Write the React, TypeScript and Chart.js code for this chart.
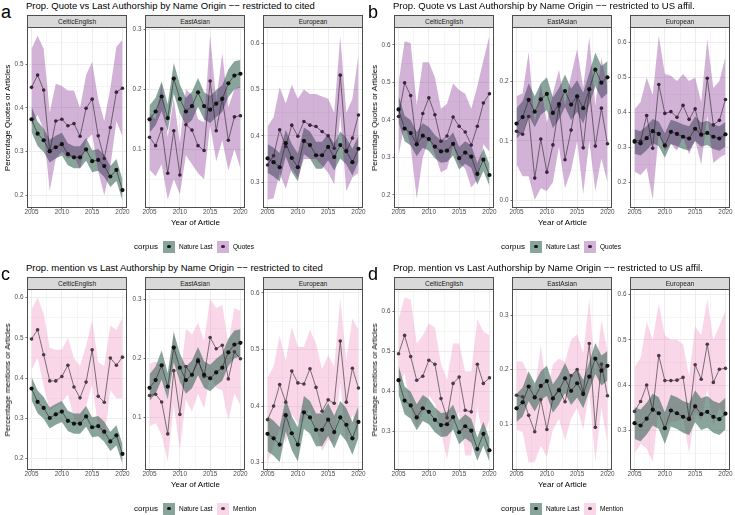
import React, { useEffect, useRef } from "react";
import { Chart, registerables } from "chart.js";

Chart.register(...registerables);

const FONT = '"Liberation Sans", Arial, Helvetica, sans-serif';

// ---------------- data ----------------
const years = [2005, 2006, 2007, 2008, 2009, 2010, 2011, 2012, 2013, 2014, 2015, 2016, 2017, 2018, 2019, 2020];
const facetNames = ["CelticEnglish", "EastAsian", "European"];

// Nature Last — restricted to cited (panels a, c)
const natCitedCelticV = [0.374, 0.341, 0.326, 0.301, 0.310, 0.317, 0.294, 0.287, 0.287, 0.305, 0.278, 0.281, 0.267, 0.243, 0.258, 0.212];
const natCitedCelticLo = [0.345, 0.313, 0.299, 0.275, 0.284, 0.291, 0.269, 0.262, 0.262, 0.279, 0.253, 0.256, 0.242, 0.219, 0.233, 0.188];
const natCitedCelticHi = [0.403, 0.369, 0.353, 0.327, 0.336, 0.343, 0.319, 0.312, 0.312, 0.331, 0.303, 0.306, 0.292, 0.267, 0.283, 0.236];
const natCitedEastV = [0.150, 0.163, 0.188, 0.152, 0.218, 0.184, 0.163, 0.172, 0.195, 0.172, 0.166, 0.176, 0.184, 0.210, 0.223, 0.226];
const natCitedEastLo = [0.128, 0.140, 0.164, 0.130, 0.193, 0.160, 0.140, 0.149, 0.171, 0.150, 0.144, 0.154, 0.162, 0.187, 0.200, 0.203];
const natCitedEastHi = [0.173, 0.186, 0.213, 0.175, 0.244, 0.208, 0.186, 0.196, 0.219, 0.195, 0.189, 0.199, 0.207, 0.233, 0.247, 0.249];
const natCitedEuroV = [0.351, 0.343, 0.332, 0.384, 0.352, 0.332, 0.389, 0.380, 0.358, 0.358, 0.376, 0.354, 0.380, 0.367, 0.343, 0.372];
const natCitedEuroLo = [0.320, 0.312, 0.301, 0.355, 0.322, 0.302, 0.360, 0.351, 0.329, 0.329, 0.347, 0.325, 0.351, 0.338, 0.314, 0.344];
const natCitedEuroHi = [0.382, 0.374, 0.363, 0.413, 0.382, 0.362, 0.418, 0.409, 0.387, 0.387, 0.405, 0.383, 0.409, 0.396, 0.372, 0.400];

// Nature Last — restricted to US affil. (panels b, d)
const natUsCelticV = [0.428, 0.377, 0.365, 0.335, 0.358, 0.349, 0.329, 0.316, 0.318, 0.336, 0.298, 0.313, 0.302, 0.256, 0.294, 0.253];
const natUsCelticLo = [0.393, 0.343, 0.332, 0.303, 0.326, 0.318, 0.298, 0.286, 0.288, 0.305, 0.268, 0.283, 0.272, 0.227, 0.264, 0.224];
const natUsCelticHi = [0.465, 0.412, 0.399, 0.368, 0.391, 0.381, 0.360, 0.346, 0.348, 0.367, 0.328, 0.343, 0.332, 0.285, 0.324, 0.282];
const natUsEastV = [0.129, 0.140, 0.169, 0.149, 0.170, 0.179, 0.147, 0.162, 0.184, 0.161, 0.175, 0.155, 0.187, 0.220, 0.198, 0.207];
const natUsEastLo = [0.104, 0.114, 0.142, 0.123, 0.144, 0.152, 0.121, 0.136, 0.157, 0.135, 0.149, 0.129, 0.161, 0.192, 0.171, 0.180];
const natUsEastHi = [0.155, 0.167, 0.197, 0.175, 0.197, 0.207, 0.173, 0.189, 0.212, 0.188, 0.202, 0.181, 0.214, 0.249, 0.226, 0.234];
const natUsEuroV = [0.316, 0.311, 0.326, 0.346, 0.338, 0.305, 0.344, 0.338, 0.330, 0.325, 0.353, 0.336, 0.341, 0.330, 0.325, 0.337];
const natUsEuroLo = [0.281, 0.276, 0.291, 0.311, 0.303, 0.270, 0.309, 0.303, 0.295, 0.290, 0.318, 0.301, 0.306, 0.295, 0.290, 0.302];
const natUsEuroHi = [0.351, 0.346, 0.361, 0.381, 0.373, 0.340, 0.379, 0.373, 0.365, 0.360, 0.388, 0.371, 0.376, 0.365, 0.360, 0.372];

// Quotes — restricted to cited (panel a)
const quoCitedCelticV = [0.447, 0.475, 0.441, 0.300, 0.370, 0.374, 0.359, 0.364, 0.335, 0.399, 0.420, 0.336, 0.284, 0.355, 0.436, 0.445];
const quoCitedCelticLo = [0.360, 0.385, 0.350, 0.210, 0.285, 0.300, 0.285, 0.290, 0.260, 0.325, 0.340, 0.255, 0.200, 0.265, 0.370, 0.335];
const quoCitedCelticHi = [0.535, 0.565, 0.535, 0.390, 0.455, 0.450, 0.440, 0.440, 0.400, 0.475, 0.505, 0.420, 0.370, 0.445, 0.540, 0.555];
const quoCitedEastV = [0.120, 0.106, 0.134, 0.060, 0.131, 0.057, 0.141, 0.132, 0.106, 0.098, 0.214, 0.131, 0.185, 0.115, 0.154, 0.156];
const quoCitedEastLo = [0.066, 0.055, 0.075, 0.016, 0.050, 0.025, 0.090, 0.075, 0.060, 0.050, 0.140, 0.080, 0.115, 0.065, 0.100, 0.068];
const quoCitedEastHi = [0.160, 0.150, 0.210, 0.120, 0.185, 0.110, 0.200, 0.190, 0.150, 0.145, 0.290, 0.180, 0.260, 0.170, 0.200, 0.205];
const quoCitedEuroV = [0.337, 0.357, 0.413, 0.377, 0.423, 0.399, 0.431, 0.423, 0.420, 0.409, 0.400, 0.373, 0.531, 0.366, 0.395, 0.445];
const quoCitedEuroLo = [0.262, 0.265, 0.320, 0.285, 0.330, 0.310, 0.350, 0.350, 0.350, 0.335, 0.320, 0.295, 0.445, 0.280, 0.310, 0.320];
const quoCitedEuroHi = [0.420, 0.440, 0.505, 0.470, 0.510, 0.480, 0.500, 0.490, 0.490, 0.485, 0.480, 0.450, 0.615, 0.450, 0.480, 0.575];

// Quotes — restricted to US affil. (panel b)
const quoUsCelticV = [0.409, 0.499, 0.465, 0.335, 0.417, 0.459, 0.414, 0.343, 0.357, 0.408, 0.383, 0.368, 0.333, 0.383, 0.445, 0.470];
const quoUsCelticLo = [0.305, 0.390, 0.330, 0.190, 0.300, 0.350, 0.310, 0.260, 0.270, 0.330, 0.285, 0.270, 0.220, 0.240, 0.335, 0.315];
const quoUsCelticHi = [0.500, 0.610, 0.605, 0.440, 0.554, 0.554, 0.514, 0.430, 0.443, 0.497, 0.480, 0.470, 0.430, 0.490, 0.559, 0.625];
const quoUsEastV = [0.116, 0.111, 0.141, 0.037, 0.103, 0.047, 0.093, 0.158, 0.068, 0.118, 0.175, 0.088, 0.187, 0.091, 0.155, 0.095];
const quoUsEastLo = [0.060, 0.040, 0.040, 0.000, 0.020, 0.015, 0.030, 0.090, 0.020, 0.050, 0.100, 0.010, 0.100, 0.015, 0.070, 0.030];
const quoUsEastHi = [0.175, 0.180, 0.250, 0.130, 0.195, 0.130, 0.180, 0.220, 0.160, 0.210, 0.255, 0.190, 0.275, 0.160, 0.240, 0.190];
const quoUsEuroV = [0.319, 0.318, 0.391, 0.297, 0.480, 0.397, 0.402, 0.386, 0.420, 0.380, 0.410, 0.336, 0.498, 0.364, 0.377, 0.437];
const quoUsEuroLo = [0.230, 0.220, 0.240, 0.150, 0.340, 0.290, 0.310, 0.290, 0.330, 0.280, 0.320, 0.250, 0.390, 0.255, 0.270, 0.280];
const quoUsEuroHi = [0.410, 0.430, 0.500, 0.450, 0.620, 0.510, 0.505, 0.490, 0.510, 0.490, 0.500, 0.430, 0.610, 0.470, 0.490, 0.560];

// Mention — restricted to cited (panel c)
const menCitedCelticV = [0.497, 0.520, 0.458, 0.393, 0.393, 0.404, 0.432, 0.378, 0.351, 0.390, 0.470, 0.355, 0.340, 0.450, 0.432, 0.452];
const menCitedCelticLo = [0.420, 0.450, 0.380, 0.320, 0.330, 0.340, 0.360, 0.300, 0.280, 0.330, 0.385, 0.275, 0.250, 0.370, 0.350, 0.350];
const menCitedCelticHi = [0.570, 0.600, 0.560, 0.475, 0.470, 0.470, 0.500, 0.450, 0.430, 0.480, 0.545, 0.440, 0.430, 0.530, 0.520, 0.550];
const menCitedEastV = [0.137, 0.139, 0.126, 0.072, 0.179, 0.105, 0.186, 0.172, 0.198, 0.169, 0.235, 0.216, 0.222, 0.165, 0.211, 0.199];
const menCitedEastLo = [0.085, 0.090, 0.070, 0.025, 0.120, 0.045, 0.130, 0.110, 0.140, 0.115, 0.170, 0.150, 0.145, 0.095, 0.140, 0.120];
const menCitedEastHi = [0.190, 0.195, 0.185, 0.130, 0.250, 0.160, 0.250, 0.240, 0.260, 0.230, 0.300, 0.285, 0.290, 0.225, 0.285, 0.280];
const menCitedEuroV = [0.376, 0.400, 0.438, 0.407, 0.462, 0.441, 0.439, 0.466, 0.433, 0.391, 0.411, 0.405, 0.515, 0.407, 0.467, 0.432];
const menCitedEuroLo = [0.300, 0.330, 0.360, 0.335, 0.385, 0.370, 0.375, 0.395, 0.360, 0.320, 0.340, 0.335, 0.440, 0.335, 0.385, 0.340];
const menCitedEuroHi = [0.450, 0.470, 0.525, 0.480, 0.540, 0.505, 0.505, 0.535, 0.510, 0.465, 0.490, 0.470, 0.590, 0.480, 0.555, 0.535];

// Mention — restricted to US affil. (panel d)
const menUsCelticV = [0.494, 0.540, 0.487, 0.428, 0.438, 0.478, 0.468, 0.382, 0.334, 0.420, 0.436, 0.353, 0.349, 0.468, 0.420, 0.434];
const menUsCelticLo = [0.410, 0.445, 0.360, 0.310, 0.345, 0.390, 0.370, 0.300, 0.230, 0.320, 0.350, 0.240, 0.240, 0.360, 0.280, 0.330];
const menUsCelticHi = [0.580, 0.635, 0.630, 0.520, 0.540, 0.570, 0.560, 0.470, 0.430, 0.520, 0.520, 0.450, 0.450, 0.580, 0.550, 0.540];
const menUsEastV = [0.153, 0.150, 0.116, 0.086, 0.145, 0.090, 0.148, 0.164, 0.141, 0.189, 0.200, 0.158, 0.248, 0.094, 0.210, 0.152];
const menUsEastLo = [0.090, 0.085, 0.030, 0.030, 0.060, 0.040, 0.090, 0.110, 0.070, 0.110, 0.130, 0.090, 0.160, 0.030, 0.130, 0.065];
const menUsEastHi = [0.215, 0.215, 0.190, 0.160, 0.245, 0.160, 0.210, 0.220, 0.215, 0.255, 0.265, 0.230, 0.330, 0.190, 0.290, 0.235];
const menUsEuroV = [0.342, 0.364, 0.400, 0.345, 0.465, 0.410, 0.410, 0.411, 0.417, 0.328, 0.445, 0.413, 0.490, 0.406, 0.435, 0.437];
const menUsEuroLo = [0.250, 0.270, 0.260, 0.230, 0.350, 0.300, 0.320, 0.320, 0.330, 0.250, 0.340, 0.320, 0.390, 0.310, 0.350, 0.330];
const menUsEuroHi = [0.440, 0.460, 0.540, 0.500, 0.580, 0.510, 0.500, 0.500, 0.490, 0.420, 0.530, 0.510, 0.590, 0.500, 0.530, 0.565];

// y-axis limits per facet (CelticEnglish, EastAsian, European)
const aYMin = [0.171, 0.002, 0.244];
const aYMax = [0.585, 0.304, 0.635];
const bYMin = [0.165, -0.0135, 0.1255];
const bYMax = [0.648, 0.292, 0.645];
const cYMin = [0.172, 0.011, 0.287];
const cYMax = [0.621, 0.317, 0.607];
const dYMin = [0.2036, 0.0157, 0.2128];
const dYMax = [0.656, 0.348, 0.612];

// ---------------- styles ----------------
const NATURE_FILL = "rgba(50,98,82,0.58)";
const QUOTES_FILL = "rgba(120,20,135,0.33)";
const MENTION_FILL = "rgba(238,122,178,0.3)";
const NATURE_PT = "#111111";
const QUOTES_PT = "#3b2340";
const MENTION_PT = "#4b3a44";
const LINE = "rgba(35,35,35,0.85)";
const GRID = "#EBEBEB";
const TICK_TXT = "#4D4D4D";

type S = { v: number[]; lo: number[]; hi: number[] };
const mk = (v: number[], lo: number[], hi: number[]): S => ({ v, lo, hi });

const natureCited = [mk(natCitedCelticV, natCitedCelticLo, natCitedCelticHi), mk(natCitedEastV, natCitedEastLo, natCitedEastHi), mk(natCitedEuroV, natCitedEuroLo, natCitedEuroHi)];
const natureUs = [mk(natUsCelticV, natUsCelticLo, natUsCelticHi), mk(natUsEastV, natUsEastLo, natUsEastHi), mk(natUsEuroV, natUsEuroLo, natUsEuroHi)];
const quotesCited = [mk(quoCitedCelticV, quoCitedCelticLo, quoCitedCelticHi), mk(quoCitedEastV, quoCitedEastLo, quoCitedEastHi), mk(quoCitedEuroV, quoCitedEuroLo, quoCitedEuroHi)];
const quotesUs = [mk(quoUsCelticV, quoUsCelticLo, quoUsCelticHi), mk(quoUsEastV, quoUsEastLo, quoUsEastHi), mk(quoUsEuroV, quoUsEuroLo, quoUsEuroHi)];
const mentionCited = [mk(menCitedCelticV, menCitedCelticLo, menCitedCelticHi), mk(menCitedEastV, menCitedEastLo, menCitedEastHi), mk(menCitedEuroV, menCitedEuroLo, menCitedEuroHi)];
const mentionUs = [mk(menUsCelticV, menUsCelticLo, menUsCelticHi), mk(menUsEastV, menUsEastLo, menUsEastHi), mk(menUsEuroV, menUsEuroLo, menUsEuroHi)];

type PanelCfg = {
  letter: string; x: number; y: number; title: string; yTitle: string;
  nature: S[]; other: S[]; otherName: string; otherFill: string; otherPt: string; otherOnTop: boolean;
  yMin: number[]; yMax: number[];
};

const DASH = "\u2212\u2212";

const panels: PanelCfg[] = [
  { letter: "a", x: 0, y: 0, title: `Prop. Quote vs Last Authorship by Name Origin ${DASH} restricted to cited`, yTitle: "Percentage Quotes or Articles", nature: natureCited, other: quotesCited, otherName: "Quotes", otherFill: QUOTES_FILL, otherPt: QUOTES_PT, otherOnTop: true, yMin: aYMin, yMax: aYMax },
  { letter: "b", x: 367, y: 0, title: `Prop. Quote vs Last Authorship by Name Origin ${DASH} restricted to US affil.`, yTitle: "Percentage Quotes or Articles", nature: natureUs, other: quotesUs, otherName: "Quotes", otherFill: QUOTES_FILL, otherPt: QUOTES_PT, otherOnTop: true, yMin: bYMin, yMax: bYMax },
  { letter: "c", x: 0, y: 262, title: `Prop. mention vs Last Authorship by Name Origin ${DASH} restricted to cited`, yTitle: "Percentage mentions or Articles", nature: natureCited, other: mentionCited, otherName: "Mention", otherFill: MENTION_FILL, otherPt: MENTION_PT, otherOnTop: false, yMin: cYMin, yMax: cYMax },
  { letter: "d", x: 367, y: 262, title: `Prop. mention vs Last Authorship by Name Origin ${DASH} restricted to US affil.`, yTitle: "Percentage mentions or Articles", nature: natureUs, other: mentionUs, otherName: "Mention", otherFill: MENTION_FILL, otherPt: MENTION_PT, otherOnTop: false, yMin: dYMin, yMax: dYMax },
];

// layout (relative to a panel)
const PLOT_LEFTS = [27, 145, 263];
const PLOT_W = 100;
const PLOT_TOP = 27;
const PLOT_H = 181;
const Y_AXIS_W = 20;
const PAD_TOP = 6;
const PAD_RIGHT = 10;
const X_AXIS_H = 10;

const framePlugin = {
  id: "frame",
  afterDraw(chart: any) {
    const { ctx, chartArea } = chart;
    const { left, top, right, bottom } = chartArea;
    ctx.save();
    ctx.strokeStyle = "#4d4d4d";
    ctx.lineWidth = 1;
    ctx.strokeRect(left + 0.5, top + 0.5, right - left - 1, bottom - top - 1);
    ctx.restore();
  },
};

const isMajorY = (v: number) => Math.abs(v * 10 - Math.round(v * 10)) < 1e-6;
const isMajorX = (v: number) => Math.abs(v % 5) < 1e-6;

function Facet(props: {
  left: number; top: number; yMin: number; yMax: number;
  nature: S; other: S; otherFill: string; otherPt: string; otherOnTop: boolean;
}) {
  const ref = useRef<HTMLCanvasElement>(null);
  const { left, top, yMin, yMax, nature, other, otherFill, otherPt, otherOnTop } = props;
  useEffect(() => {
    if (!ref.current) return;
    const pts = (arr: number[]) => years.map((x, i) => ({ x, y: arr[i] }));
    const ribbon = (s: S, fill: string) => [
      { data: pts(s.lo), borderWidth: 0, pointRadius: 0, fill: false },
      { data: pts(s.hi), borderWidth: 0, pointRadius: 0, fill: "-1", backgroundColor: fill },
    ];
    const line = (s: S, pt: string, r: number) => ({
      data: pts(s.v), borderColor: LINE, borderWidth: 0.7, pointRadius: r,
      pointBackgroundColor: pt, pointBorderWidth: 0, fill: false,
    });
    const natRib = ribbon(nature, NATURE_FILL);
    const othRib = ribbon(other, otherFill);
    const datasets: any[] = [
      line(nature, NATURE_PT, 2.1),
      line(other, otherPt, 1.8),
      ...(otherOnTop ? othRib : natRib),
      ...(otherOnTop ? natRib : othRib),
    ];
    const tickFont = { family: FONT, size: 6.4, lineHeight: 1 };
    const chart = new Chart(ref.current, {
      type: "line",
      data: { datasets },
      options: {
        animation: false,
        responsive: false,
        devicePixelRatio: 1,
        events: [],
        layout: { padding: { left: 0, right: PAD_RIGHT, top: PAD_TOP, bottom: 0 } },
        elements: { line: { tension: 0 } },
        plugins: {
          legend: { display: false },
          tooltip: { enabled: false },
          filler: { drawTime: "beforeDatasetsDraw", propagate: false },
        } as any,
        scales: {
          x: {
            type: "linear",
            min: 2004.25,
            max: 2020.75,
            afterFit: (s: any) => { s.height = X_AXIS_H; },
            ticks: {
              stepSize: 2.5, includeBounds: false, autoSkip: false, maxRotation: 0, minRotation: 0,
              padding: 0, color: TICK_TXT, font: tickFont,
              callback: (v: any) => (isMajorX(Number(v)) ? String(v) : ""),
            },
            grid: {
              color: GRID,
              lineWidth: (c: any) => (c.tick && isMajorX(c.tick.value) ? 0.9 : 0.45),
              drawTicks: true, tickLength: 1.5, tickWidth: 0.7,
              tickColor: (c: any) => (c.tick && isMajorX(c.tick.value) ? "#333" : "rgba(0,0,0,0)"),
            },
            border: { display: false },
          },
          y: {
            type: "linear",
            min: yMin,
            max: yMax,
            afterFit: (s: any) => { s.width = Y_AXIS_W; },
            ticks: {
              stepSize: 0.05, includeBounds: false, autoSkip: false,
              padding: 2, color: TICK_TXT, font: tickFont,
              callback: (v: any) => (isMajorY(Number(v)) ? Number(v).toFixed(1) : ""),
            },
            grid: {
              color: GRID,
              lineWidth: (c: any) => (c.tick && isMajorY(c.tick.value) ? 0.9 : 0.45),
              drawTicks: true, tickLength: 1.5, tickWidth: 0.7,
              tickColor: (c: any) => (c.tick && isMajorY(c.tick.value) ? "#333" : "rgba(0,0,0,0)"),
            },
            border: { display: false },
          },
        },
      } as any,
      plugins: [framePlugin],
    });
    return () => chart.destroy();
  }, []);
  const w = Y_AXIS_W + PLOT_W + PAD_RIGHT;
  const h = PAD_TOP + PLOT_H + X_AXIS_H;
  return (
    <canvas
      ref={ref}
      width={w}
      height={h}
      style={{ position: "absolute", left, top, width: w, height: h }}
    />
  );
}

function Label(props: {
  x: number; y: number; size: number; children: React.ReactNode;
  align?: "left" | "center"; color?: string; rotate?: boolean;
}) {
  const { x, y, size, children, align = "left", color = "#000", rotate = false } = props;
  const tx = align === "center" ? "-50%" : "0";
  return (
    <div
      style={{
        position: "absolute", left: x, top: y, fontSize: size, lineHeight: `${size}px`,
        color, whiteSpace: "nowrap", fontFamily: FONT,
        transform: rotate ? "translate(-50%,-50%) rotate(-90deg)" : `translate(${tx},-50%)`,
      }}
    >
      {children}
    </div>
  );
}

function LegendKey(props: { x: number; y: number; fill: string; dot: string }) {
  const { x, y, fill, dot } = props;
  return (
    <div style={{ position: "absolute", left: x, top: y, width: 12, height: 12, background: fill }}>
      <div style={{ position: "absolute", left: 4.2, top: 4.2, width: 3.6, height: 3.6, borderRadius: "50%", background: dot }} />
    </div>
  );
}

function Panel({ p }: { p: PanelCfg }) {
  const X = p.x;
  const Y = p.y;
  const base = (b: number, s: number) => b - 0.3465 * s;
  return (
    <>
      <Label x={X + 1} y={Y + base(18.3, 18)} size={18}>{p.letter}</Label>
      <Label x={X + 26} y={Y + base(9, 9.5)} size={9.5}>{p.title}</Label>
      {facetNames.map((name, i) => (
        <div
          key={"s" + i}
          style={{
            position: "absolute", left: X + PLOT_LEFTS[i], top: Y + 15, width: PLOT_W, height: 13,
            boxSizing: "border-box", border: "1px solid #4d4d4d", background: "#D9D9D9",
            fontFamily: FONT, fontSize: 6.6, color: "#1A1A1A", textAlign: "center", lineHeight: "11px",
          }}
        >
          {name}
        </div>
      ))}
      {facetNames.map((name, i) => (
        <Facet
          key={"f" + i}
          left={X + PLOT_LEFTS[i] - Y_AXIS_W}
          top={Y + PLOT_TOP - PAD_TOP}
          yMin={p.yMin[i]}
          yMax={p.yMax[i]}
          nature={p.nature[i]}
          other={p.other[i]}
          otherFill={p.otherFill}
          otherPt={p.otherPt}
          otherOnTop={p.otherOnTop}
        />
      ))}
      <Label x={X + 7.5} y={Y + 117.5} size={8} rotate>{p.yTitle}</Label>
      <Label x={X + 195.5} y={Y + 222.5} size={8} align="center">Year of Article</Label>
      <Label x={X + 134} y={Y + 246.6} size={8}>corpus</Label>
      <LegendKey x={X + 163} y={Y + 240.6} fill={NATURE_FILL} dot={NATURE_PT} />
      <Label x={X + 179} y={Y + 246.6} size={6.5}>Nature Last</Label>
      <LegendKey x={X + 217} y={Y + 240.6} fill={p.otherFill} dot={p.otherPt} />
      <Label x={X + 233} y={Y + 246.6} size={6.5}>{p.otherName}</Label>
    </>
  );
}

export default function App() {
  return (
    <div
      style={{
        position: "fixed", left: 0, top: 0, width: 735, height: 515,
        background: "#ffffff", overflow: "hidden",
      }}
    >
      {panels.map((p) => (
        <Panel key={p.letter} p={p} />
      ))}
    </div>
  );
}
